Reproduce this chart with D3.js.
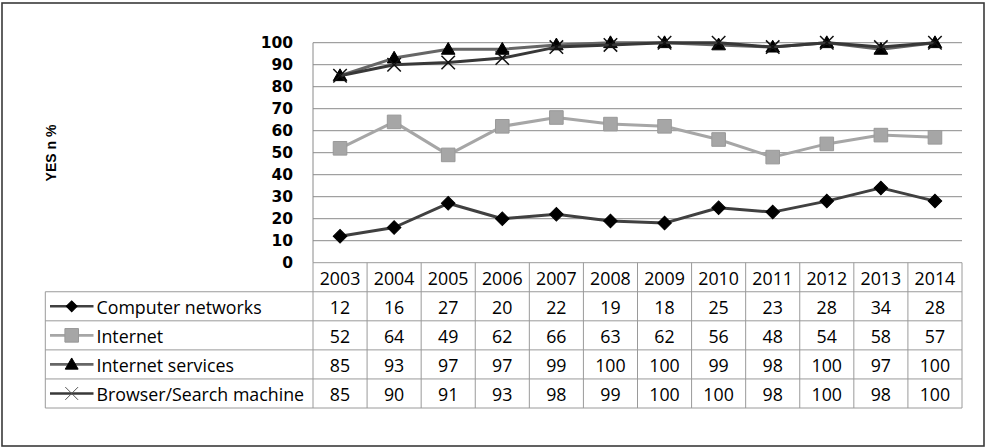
<!DOCTYPE html>
<html>
<head>
<meta charset="utf-8">
<script src="https://cdn.jsdelivr.net/npm/d3@7"></script>
<style>
  html, body { margin: 0; padding: 0; background: #fff; }
  svg { display: block; }
</style>
</head>
<body>
<svg id="chart" width="986" height="447"></svg>
<script>
// Survey answers, share of "yes" per year
const years = ["2003","2004","2005","2006","2007","2008","2009","2010","2011","2012","2013","2014"];
const computerNetworks = [12,16,27,20,22,19,18,25,23,28,34,28];
const internet = [52,64,49,62,66,63,62,56,48,54,58,57];
const internetServices = [85,93,97,97,99,100,100,99,98,100,97,100];
const browserSearch = [85,90,91,93,98,99,100,100,98,100,98,100];
const seriesNames = ["Computer networks","Internet","Internet services","Browser/Search machine"];
const yTicks = [0,10,20,30,40,50,60,70,80,90,100];
const yTitle = "YES n %";

const series = [
  { name: seriesNames[0], values: computerNetworks, line: "#404040", marker: "diamond", fill: "#000", stroke: "#000" },
  { name: seriesNames[1], values: internet, line: "#a6a6a6", marker: "square", fill: "#a6a6a6", stroke: "#999" },
  { name: seriesNames[2], values: internetServices, line: "#666666", marker: "triangle", fill: "#000", stroke: "#000" },
  { name: seriesNames[3], values: browserSearch, line: "#383838", marker: "x", fill: "none", stroke: "#111" }
];

const svg = d3.select("#chart");
const plotLeft = 313, plotRight = 962, plotTop = 42.7, plotBottom = 262.7;
const tableLeft = 45.3, tableBottom = 408;

const x = d3.scaleBand().domain(years).range([plotLeft, plotRight]);
const y = d3.scaleLinear().domain([0, 100]).range([plotBottom, plotTop]);
const rows = d3.scaleBand().domain(["header", ...seriesNames]).range([plotBottom, tableBottom]);

// Outer frame
svg.append("rect")
  .attr("x", 2).attr("y", 3).attr("width", 982).attr("height", 443)
  .attr("fill", "none").attr("stroke", "#3a3a3a").attr("stroke-width", 1.6);

// Horizontal gridlines
svg.append("g").selectAll("line")
  .data(yTicks.filter(t => t > 0))
  .join("line")
  .attr("x1", plotLeft).attr("x2", plotRight)
  .attr("y1", d => y(d)).attr("y2", d => y(d))
  .attr("stroke", "#8a8a8a").attr("stroke-width", 1);

// Value axis line
svg.append("line")
  .attr("x1", plotLeft).attr("x2", plotLeft)
  .attr("y1", plotTop).attr("y2", plotBottom)
  .attr("stroke", "#8a8a8a").attr("stroke-width", 1);

// Y tick labels
const yAxis = svg.append("g")
  .attr("transform", `translate(${plotLeft},0)`)
  .call(d3.axisLeft(y).tickValues(yTicks).tickSize(0).tickPadding(20));
yAxis.select(".domain").remove();
yAxis.selectAll("text")
  .attr("font-family", "'DejaVu Sans', sans-serif")
  .attr("font-weight", "bold")
  .attr("font-size", 15.5)
  .attr("fill", "#000");

// Y title
svg.append("text")
  .attr("transform", "translate(56,153) rotate(-90)")
  .attr("text-anchor", "middle")
  .attr("font-family", "'Liberation Sans', Arial, sans-serif")
  .attr("font-weight", "bold")
  .attr("font-size", 14)
  .attr("fill", "#000")
  .text(yTitle);

// Marker shapes
function markerPath(kind, scale) {
  const s = scale || 1;
  if (kind === "diamond") return d3.symbol(d3.symbolSquare, 92 * s * s)();
  if (kind === "square") return d3.symbol(d3.symbolSquare, 185 * s * s)();
  if (kind === "triangle") return d3.symbol(d3.symbolTriangle, 80 * s * s)();
  return d3.symbol(d3.symbolTimes, 120 * s * s)();
}
function markerTransform(kind) {
  return kind === "diamond" ? " rotate(45)" : (kind === "triangle" ? " translate(0,1)" : "");
}

// Series lines and markers
const line = d3.line()
  .x((d, i) => x(years[i]) + x.bandwidth() / 2)
  .y(d => y(d));

series.forEach(s => {
  const g = svg.append("g");
  g.append("path")
    .attr("d", line(s.values))
    .attr("fill", "none")
    .attr("stroke", s.line)
    .attr("stroke-width", 3)
    .attr("stroke-linejoin", "round");
  g.selectAll("path.mk")
    .data(s.values)
    .join("path")
    .attr("class", "mk")
    .attr("d", markerPath(s.marker))
    .attr("transform", (d, i) => `translate(${x(years[i]) + x.bandwidth() / 2},${y(d)})` + markerTransform(s.marker))
    .attr("fill", s.fill)
    .attr("stroke", s.stroke)
    .attr("stroke-width", s.marker === "x" ? 1.5 : 1);
});

// Data table
const grid = "#9a9a9a";
const table = svg.append("g");
const rowLines = rows.domain().slice(1).map(r => rows(r));
rowLines.push(tableBottom);
table.selectAll("line.h")
  .data(rowLines)
  .join("line")
  .attr("class", "h")
  .attr("x1", tableLeft).attr("x2", plotRight)
  .attr("y1", d => d).attr("y2", d => d)
  .attr("stroke", grid).attr("stroke-width", 1);
table.append("line")
  .attr("x1", plotLeft).attr("x2", plotRight)
  .attr("y1", plotBottom).attr("y2", plotBottom)
  .attr("stroke", grid).attr("stroke-width", 1);
const colEdges = years.map(yr => x(yr)).concat([plotRight]);
table.selectAll("line.v")
  .data(colEdges)
  .join("line")
  .attr("class", "v")
  .attr("x1", d => d).attr("x2", d => d)
  .attr("y1", plotBottom).attr("y2", tableBottom)
  .attr("stroke", grid).attr("stroke-width", 1);
table.append("line")
  .attr("x1", tableLeft).attr("x2", tableLeft)
  .attr("y1", rows(seriesNames[0])).attr("y2", tableBottom)
  .attr("stroke", grid).attr("stroke-width", 1);

const cellFont = { family: "'Open Sans', sans-serif", size: 17.8 };
function cellText(sel) {
  return sel.attr("font-family", cellFont.family)
    .attr("font-size", cellFont.size)
    .attr("fill", "#000")
    .attr("dominant-baseline", "central");
}

// Header row
cellText(table.selectAll("text.yr")
  .data(years)
  .join("text")
  .attr("class", "yr")
  .attr("x", d => x(d) + x.bandwidth() / 2)
  .attr("y", rows("header") + rows.bandwidth() / 2 + 0.5)
  .attr("text-anchor", "middle")
  .text(d => d));

// Series rows
series.forEach(s => {
  const cy = rows(s.name) + rows.bandwidth() / 2;
  const leg = table.append("g");
  leg.append("line")
    .attr("x1", 50).attr("x2", 93.5)
    .attr("y1", cy).attr("y2", cy)
    .attr("stroke", s.line).attr("stroke-width", 2.6);
  leg.append("path")
    .attr("d", markerPath(s.marker, s.marker === "diamond" ? 0.8 : (s.marker === "square" ? 1.0 : 0.95)))
    .attr("transform", `translate(71.7,${cy})` + markerTransform(s.marker))
    .attr("fill", s.fill)
    .attr("stroke", s.marker === "x" ? "#555" : s.stroke)
    .attr("stroke-width", 1);
  cellText(leg.append("text")
    .attr("x", 96.5)
    .attr("y", cy + 0.5)
    .text(s.name));
  cellText(table.append("g").selectAll("text")
    .data(s.values)
    .join("text")
    .attr("x", (d, i) => x(years[i]) + x.bandwidth() / 2)
    .attr("y", cy + 0.5)
    .attr("text-anchor", "middle")
    .text(d => d));
});
</script>
</body>
</html>
